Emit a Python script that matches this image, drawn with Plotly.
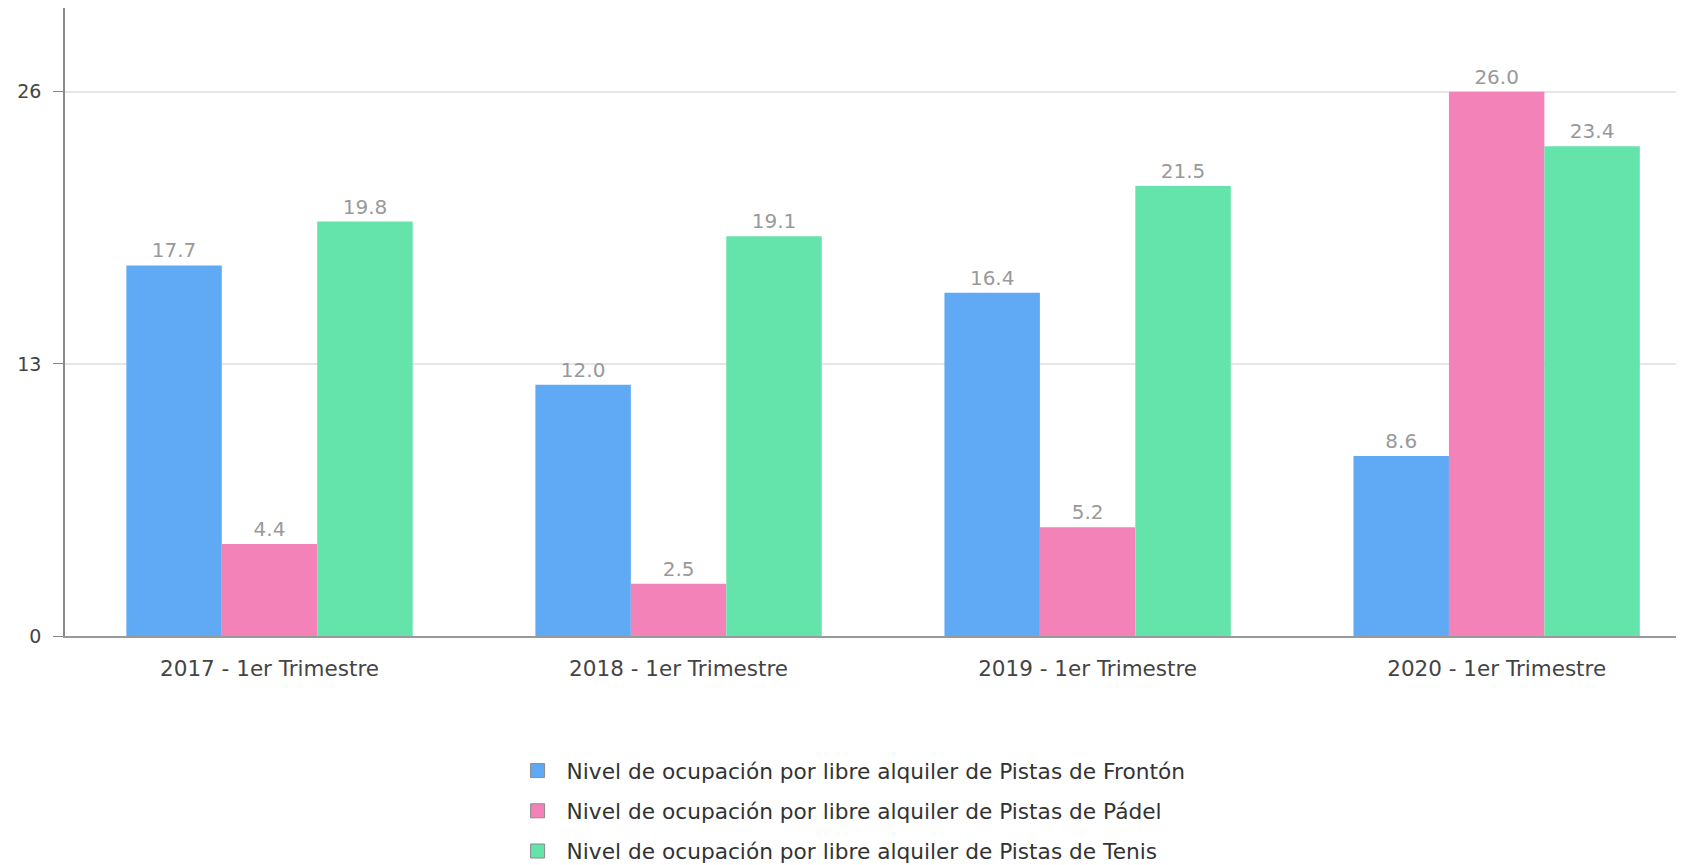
import plotly.graph_objects as go

categories = ["2017 - 1er Trimestre", "2018 - 1er Trimestre", "2019 - 1er Trimestre", "2020 - 1er Trimestre"]
fronton = [17.7, 12.0, 16.4, 8.6]
padel = [4.4, 2.5, 5.2, 26.0]
tenis = [19.8, 19.1, 21.5, 23.4]
series_names = [
    "Nivel de ocupación por libre alquiler de Pistas de Frontón",
    "Nivel de ocupación por libre alquiler de Pistas de Pádel",
    "Nivel de ocupación por libre alquiler de Pistas de Tenis",
]
colors = ["#60a9f5", "#f282b8", "#64e3aa"]
y_ticks = [0, 13, 26]

fig = go.Figure()
for i, (name, vals) in enumerate(zip(series_names, [fronton, padel, tenis])):
    fig.add_trace(go.Bar(
        x=categories, y=vals, name=name,
        marker=dict(color=colors[i], line=dict(width=0)),
        text=[f"{v:.1f}" for v in vals],
        textposition="outside",
        textfont=dict(family="DejaVu Sans", size=20, color="#999999"),
        cliponaxis=False,
        showlegend=False,
        hoverinfo="skip",
    ))
# legend entries (square swatches with grey border)
for i, name in enumerate(series_names):
    fig.add_trace(go.Scatter(
        x=[None], y=[None], mode="markers", name=name,
        marker=dict(symbol="square", size=14, color=colors[i],
                    line=dict(color="#8a8a8a", width=1)),
        legendgroup=f"g{i}",
        hoverinfo="skip",
    ))

fig.update_layout(
    width=1676, height=900,
    margin=dict(l=57, r=0, t=0, b=272, pad=0),
    barmode="group",
    bargap=0.30,
    bargroupgap=0,
    plot_bgcolor="white",
    paper_bgcolor="white",
    font=dict(family="DejaVu Sans", size=20, color="#444444"),
    showlegend=True,
    legend=dict(
        orientation="v",
        x=0.274, xanchor="left",
        y=-0.1815, yanchor="top",
        font=dict(family="DejaVu Sans", size=21.7, color="#333333"),
        traceorder="grouped",
        tracegroupgap=9,
        itemwidth=48,
    ),
    xaxis=dict(
        range=[-0.5, 3.458],
        showgrid=False,
        showline=True, linecolor="#999999", linewidth=1.5,
        ticks="", ticklabelstandoff=12,
        tickfont=dict(family="DejaVu Sans", size=21.5, color="#444444"),
    ),
    yaxis=dict(
        range=[0, 30.0],
        tickvals=y_ticks,
        showgrid=True, gridcolor="#e6e6e6", gridwidth=1.5,
        showline=True, linecolor="#888888", linewidth=1.5,
        ticks="outside", ticklen=10, tickcolor="#888888",
        ticklabelstandoff=8,
        tickfont=dict(family="DejaVu Sans", size=19, color="#444444"),
        zeroline=False,
    ),
)

fig.write_html("out.html")
